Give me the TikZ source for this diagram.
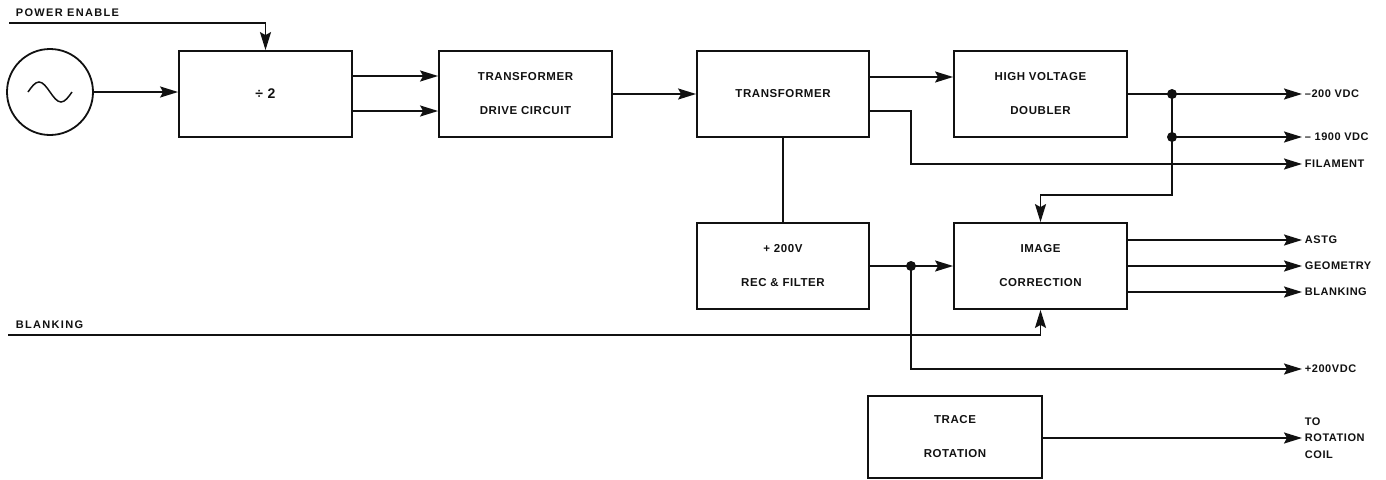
\documentclass[tikz,border=0pt]{standalone}
\usepackage{fontspec}
\setmainfont{Liberation Sans}[LetterSpace=5]
\usetikzlibrary{arrows.meta}
\definecolor{cink}{HTML}{111111}
\tikzset{
  every picture/.style={line width=1.8pt, color=cink},
  box/.style={draw, rectangle, align=center, minimum width=173pt, minimum height=86pt, inner sep=0pt, font=\fontsize{11.5}{34}\selectfont\bfseries},
  arrow/.style={-{Stealth[length=18pt, width=11pt, inset=3pt]}},
  dot/.style={circle, fill, inner sep=0pt, minimum size=10pt},
  lbl/.style={anchor=west, inner sep=2pt, align=left, font=\fontsize{11}{16.5}\selectfont\bfseries},
  inlbl/.style={anchor=west, inner sep=0pt, font=\fontsize{11}{13}\selectfont\bfseries\addfontfeature{LetterSpace=12}},
}

\begin{document}
\begin{tikzpicture}[x=1pt, y=-1pt]
  \useasboundingbox (0,0) rectangle (1386,479);
  % blocks
  \node[draw, circle, minimum size=86pt, inner sep=0pt] (osc) at (50,92) {};
  \draw[line width=1.5pt] ([xshift=-22pt]osc.center) sin ++(11pt,10pt) cos ++(11pt,-10pt) sin ++(11pt,-10pt) cos ++(11pt,10pt);
  \node[box, font=\fontsize{14}{34}\selectfont\bfseries] (div) at (265.5,94) {÷ 2};
  \node[box] (drv) at (525.5,94) {TRANSFORMER\\DRIVE CIRCUIT};
  \node[box, minimum width=172pt] (xfmr) at (783,94) {TRANSFORMER};
  \node[box] (hvd) at (1040.5,94) {HIGH VOLTAGE\\DOUBLER};
  \node[box, minimum width=172pt] (rect) at (783,266) {+ 200V\\REC \& FILTER};
  \node[box] (imgc) at (1040.5,266) {IMAGE\\CORRECTION};
  \node[box, minimum width=174pt, minimum height=82pt] (trace) at (955,437) {TRACE\\ROTATION};
  % inputs
  \coordinate (pwrin) at (9,23);
  \node[inlbl] (pwrlbl) at (15,13) {POWER ENABLE};
  \coordinate (blkin) at (8,335);
  \node[inlbl] (blklbl) at (15,325) {BLANKING};
  % outputs
  \node[lbl] (m200) at (1302,94) {–200 VDC};
  \node[lbl] (m1900) at (1302,137) {– 1900 VDC};
  \node[lbl] (fil) at (1302,164) {FILAMENT};
  \node[lbl] (astg) at (1302,240) {ASTG};
  \node[lbl] (geom) at (1302,266) {GEOMETRY};
  \node[lbl] (blkout) at (1302,292) {BLANKING};
  \node[lbl] (p200) at (1302,369) {+200VDC};
  \node[lbl] (coil) at (1302,438) {TO\\ROTATION\\COIL};
  % junctions and bends
  \node[dot] (j1) at (1172,94) {};
  \node[dot] (j2) at (1172,137) {};
  \node[dot] (j3) at (911,266) {};
  \coordinate (hvbend) at (1172,195);
  \coordinate (filbend) at (911,164);
  \coordinate (p200bend) at (911,369);
  % connectors
  \draw[arrow] (pwrin) -| (div.north);
  \draw[arrow] (osc.east) -- (osc.east -| div.west);
  \draw[arrow] ([yshift=18pt]div.east) -- ([yshift=18pt]drv.west);
  \draw[arrow] ([yshift=-17pt]div.east) -- ([yshift=-17pt]drv.west);
  \draw[arrow] (drv) -- (xfmr);
  \draw[arrow] ([yshift=17pt]xfmr.east) -- ([yshift=17pt]hvd.west);
  \draw[arrow] ([yshift=-17pt]xfmr.east) -| (filbend) -- (fil.west);
  \draw (xfmr) -- (rect);
  \draw[arrow] (hvd) -- (m200.west);
  \draw[arrow] (j2.center) -- (m1900.west);
  \draw[arrow] (j1.center) -- (hvbend) -| (imgc.north);
  \draw[arrow] (rect) -- (imgc);
  \draw[arrow] (j3.center) -- (p200bend) -- (p200.west);
  \draw[arrow] (blkin) -| (imgc.south);
  \draw[arrow] ([yshift=26pt]imgc.east) -- (astg.west);
  \draw[arrow] (imgc) -- (geom.west);
  \draw[arrow] ([yshift=-26pt]imgc.east) -- (blkout.west);
  \draw[arrow] (trace.east |- coil.west) -- (coil.west);
\end{tikzpicture}
\end{document}
